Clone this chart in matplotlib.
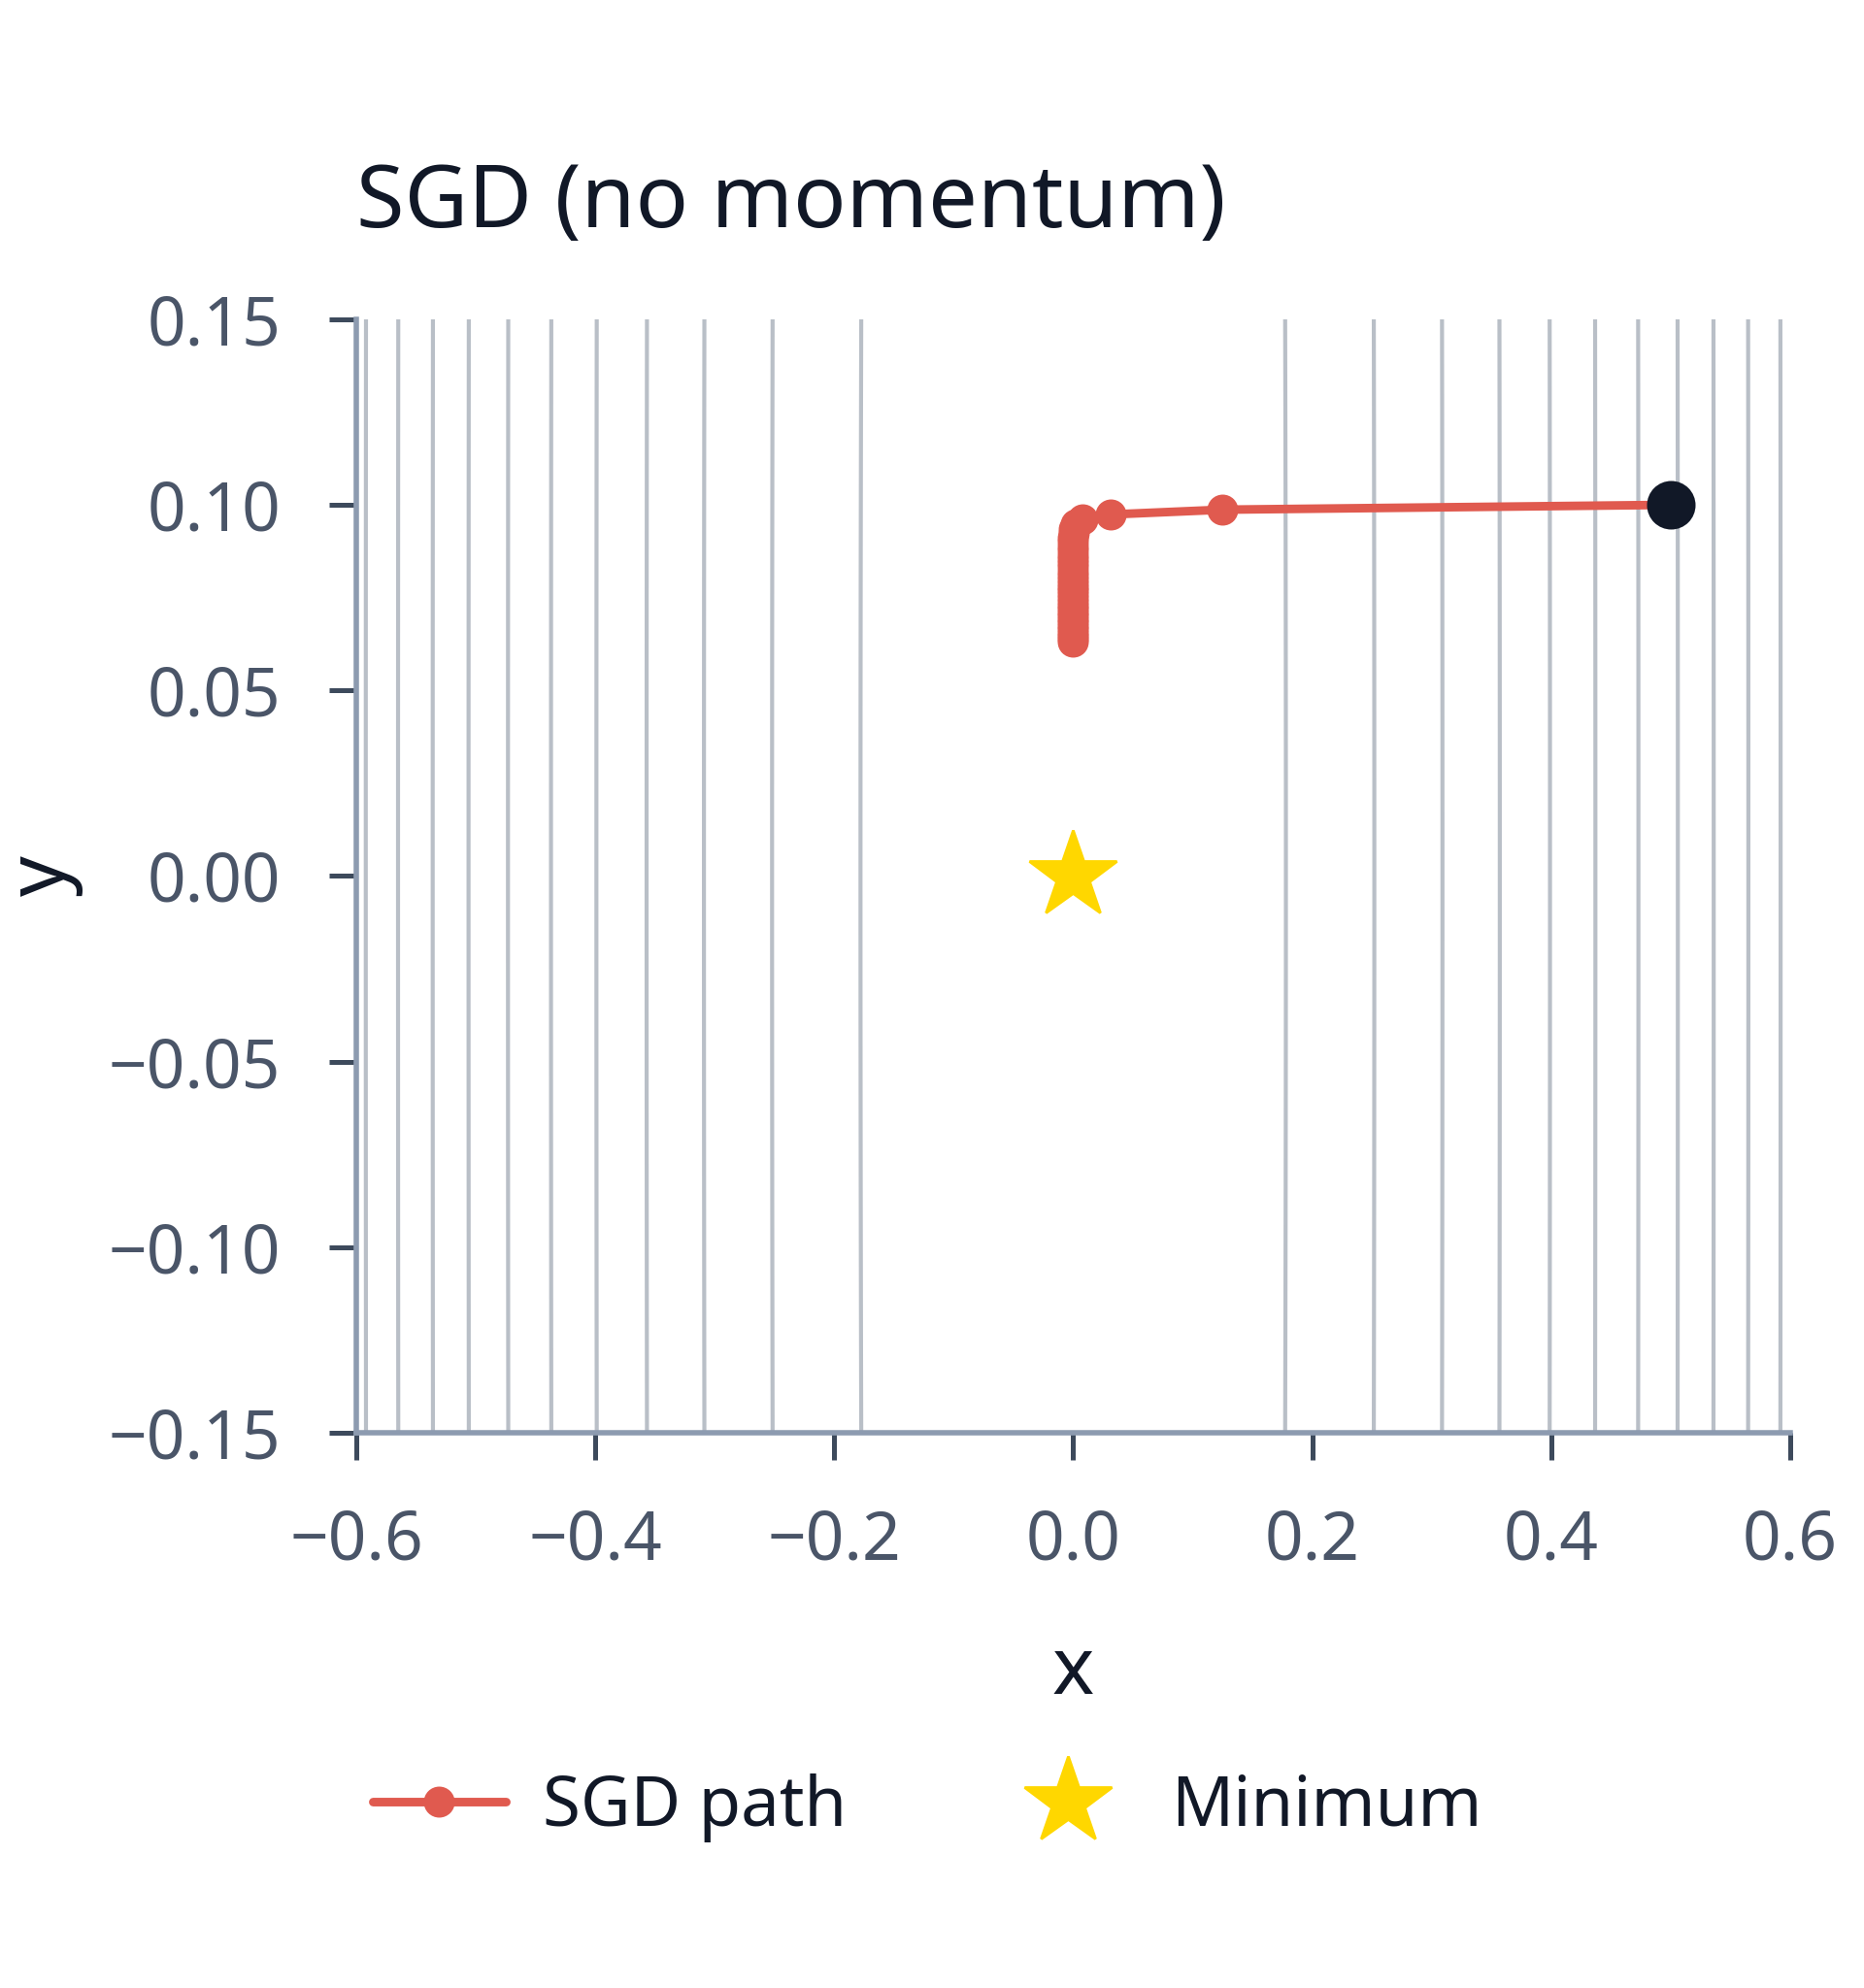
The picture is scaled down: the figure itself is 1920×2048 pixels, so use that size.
import numpy as np
import matplotlib
matplotlib.use('Agg')
import matplotlib.pyplot as plt
from matplotlib.ticker import FuncFormatter

# ---- data ----
path_x = [0.5, 0.125, 0.031, 0.008, 0.002, 0.0005, 0.0001, 0.0, 0.0, 0.0,
          0.0, 0.0, 0.0, 0.0, 0.0, 0.0, 0.0, 0.0, 0.0, 0.0,
          0.0, 0.0, 0.0, 0.0, 0.0, 0.0, 0.0, 0.0, 0.0, 0.0,
          0.0, 0.0, 0.0, 0.0, 0.0, 0.0]
path_y = [0.1000, 0.0987, 0.0974, 0.0961, 0.0949, 0.0936, 0.0924, 0.0912, 0.0900, 0.0888,
          0.0877, 0.0865, 0.0854, 0.0843, 0.0832, 0.0821, 0.0810, 0.0800, 0.0789, 0.0779,
          0.0769, 0.0759, 0.0749, 0.0739, 0.0729, 0.0720, 0.0710, 0.0701, 0.0692, 0.0683,
          0.0674, 0.0665, 0.0656, 0.0648, 0.0639, 0.0631]
min_x, min_y = 0.0, 0.0

# |x| where the loss contours cross (they look vertical at this zoom)
contour_x = [0.178, 0.252, 0.309, 0.357, 0.399, 0.437, 0.473, 0.506, 0.536, 0.565, 0.592]

x_ticks = [-0.6, -0.4, -0.2, 0.0, 0.2, 0.4, 0.6]
y_ticks = [-0.15, -0.10, -0.05, 0.00, 0.05, 0.10, 0.15]

title = 'SGD (no momentum)'

# ---- style ----
plt.rcParams['font.family'] = ['Noto Sans', 'DejaVu Sans']
RED = '#e05a4f'
DARK = '#111827'
GOLD = '#FFD700'
GRID = '#b9bfc7'
SPINE = '#8d9bb0'
TICK = '#3d4a5c'
LABEL = '#4a5568'

fig = plt.figure(figsize=(9.6, 10.24), dpi=200)
ax = fig.add_axes([0.1911, 0.2793, 0.7693, 0.5601])

gx = np.linspace(-0.6, 0.6, 800)
gy = np.linspace(-0.15, 0.15, 200)
X, Y = np.meshgrid(gx, gy)
Z = X**2 + 0.01 * Y**2
levels = np.square(contour_x)
ax.contour(X, Y, Z, levels=levels, colors=GRID, linewidths=1.5, zorder=1)

ax.plot(path_x, path_y, '-o', color=RED, lw=3.2, ms=10.5, zorder=3,
        solid_capstyle='round', solid_joinstyle='round', label='SGD path')
ax.plot(path_x[0], path_y[0], 'o', color=DARK, ms=17, zorder=4)
ax.plot(min_x, min_y, '*', color=GOLD, ms=34, zorder=4, linestyle='none', label='Minimum')

ax.set_xlim(-0.6, 0.6)
ax.set_ylim(-0.15, 0.15)
ax.set_xticks(x_ticks)
ax.set_yticks(y_ticks)


def fmt(decimals):
    def f(v, _):
        if abs(v) < 1e-9:
            v = 0.0
        return f'{v:.{decimals}f}'.replace('-', '\u2212')
    return FuncFormatter(f)


ax.xaxis.set_major_formatter(fmt(1))
ax.yaxis.set_major_formatter(fmt(2))

for s in ['top', 'right']:
    ax.spines[s].set_visible(False)
for s in ['left', 'bottom']:
    ax.spines[s].set_color(SPINE)
    ax.spines[s].set_linewidth(2)

ax.tick_params(length=10, width=1.8, color=TICK, labelsize=25, labelcolor=LABEL, pad=18)

ax.set_title(title, loc='left', fontsize=32.5, color=DARK, pad=34)
ax.set_xlabel('x', fontsize=29.5, color=DARK)
ax.set_ylabel('y', fontsize=29.5, color=DARK)
ax.xaxis.set_label_coords(0.5, -0.18)
ax.yaxis.set_label_coords(-0.19, 0.5)

handles, labels = ax.get_legend_handles_labels()
leg = fig.legend(handles, labels, loc='center', bbox_to_anchor=(0.4976, 0.0908),
                 ncol=2, frameon=False, fontsize=25.5, handlelength=1.93,
                 handletextpad=0.54, columnspacing=2.25, numpoints=1)
for t in leg.get_texts():
    t.set_color(DARK)

fig.savefig('out.png', dpi=200, facecolor='white')
